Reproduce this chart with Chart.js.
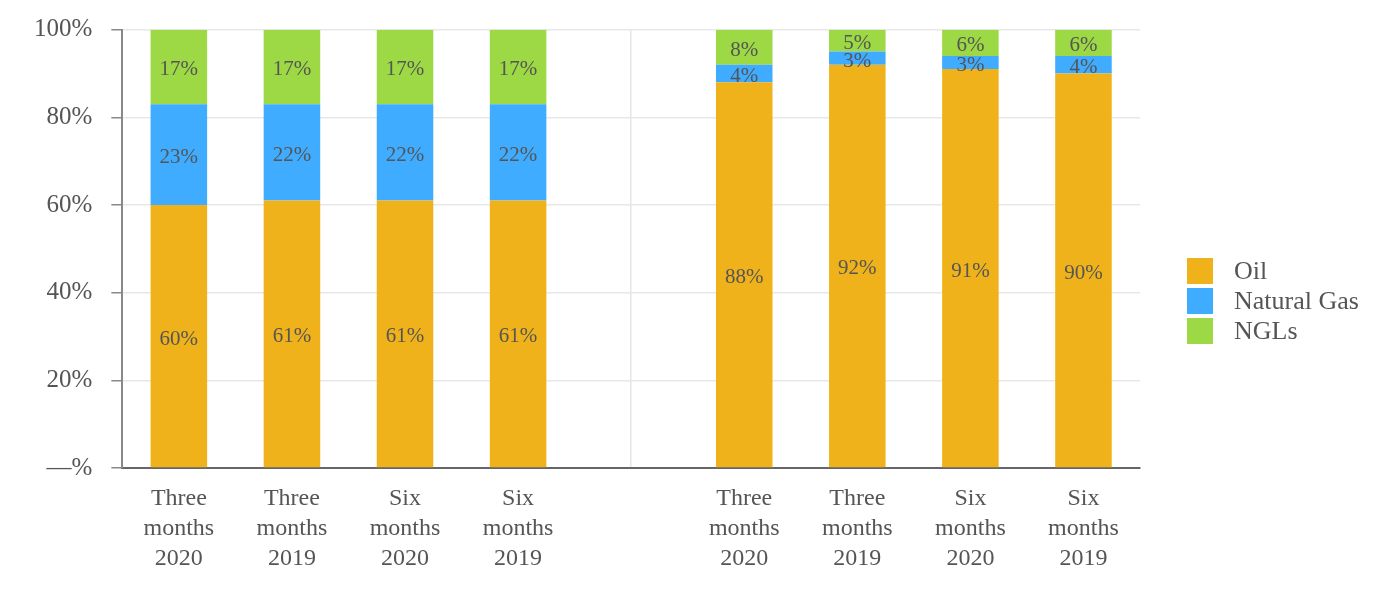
<!DOCTYPE html>
<html>
<head>
<meta charset="utf-8">
<script src="https://cdn.jsdelivr.net/npm/chart.js@4"></script>
<style>
html,body{margin:0;padding:0;background:#fff;}
#wrap{width:1400px;height:600px;position:relative;}
</style>
</head>
<body>
<div id="wrap"><canvas id="c" width="1400" height="600"></canvas></div>
<script>
const categories = [
  ['Three','months','2020'], ['Three','months','2019'], ['Six','months','2020'], ['Six','months','2019'],
  '',
  ['Three','months','2020'], ['Three','months','2019'], ['Six','months','2020'], ['Six','months','2019']
];
const seriesNames = ['Oil', 'Natural Gas', 'NGLs'];
const oil = [60, 61, 61, 61, null, 88, 92, 91, 90];
const gas = [23, 22, 22, 22, null, 4, 3, 3, 4];
const ngl = [17, 17, 17, 17, null, 8, 5, 6, 6];
const yTicks = [0, 20, 40, 60, 80, 100];

const colors = ['#F0B21A', '#3FACFF', '#9CD944'];
const FONT = '"Liberation Serif", "Times New Roman", serif';
const TEXT = '#555555';

const labelPlugin = {
  id: 'segLabels',
  afterDatasetsDraw(chart) {
    const ctx = chart.ctx;
    ctx.save();
    ctx.font = '21px ' + FONT;
    ctx.fillStyle = TEXT;
    ctx.textAlign = 'center';
    ctx.textBaseline = 'middle';
    chart.data.datasets.forEach((ds, i) => {
      const meta = chart.getDatasetMeta(i);
      meta.data.forEach((el, j) => {
        const v = ds.data[j];
        if (v === null || v === undefined) return;
        const p = el.getCenterPoint();
        ctx.fillText(v + '%', p.x, p.y + 3);
      });
    });
    ctx.restore();
  }
};

const legendPlugin = {
  id: 'sideLegend',
  afterDraw(chart) {
    const ctx = chart.ctx;
    ctx.save();
    ctx.font = '26px ' + FONT;
    ctx.textAlign = 'left';
    ctx.textBaseline = 'middle';
    chart.data.datasets.forEach((ds, i) => {
      const y = 258 + i * 30;
      ctx.fillStyle = ds.backgroundColor;
      ctx.fillRect(1187, y, 26, 26);
      ctx.fillStyle = TEXT;
      ctx.fillText(ds.label, 1234, y + 14);
    });
    ctx.restore();
  }
};

new Chart(document.getElementById('c'), {
  type: 'bar',
  data: {
    labels: categories,
    datasets: [
      { label: seriesNames[0], data: oil, backgroundColor: colors[0] },
      { label: seriesNames[1], data: gas, backgroundColor: colors[1] },
      { label: seriesNames[2], data: ngl, backgroundColor: colors[2] }
    ]
  },
  options: {
    responsive: false,
    animation: false,
    devicePixelRatio: 1,
    layout: { padding: { left: 15, right: 260, top: 4, bottom: 10 } },
    datasets: { bar: { barPercentage: 0.5, categoryPercentage: 1.0 } },
    plugins: {
      legend: { display: false },
      tooltip: { enabled: false }
    },
    scales: {
      x: {
        stacked: true,
        grid: {
          offset: false,
          drawTicks: false,
          color: (c) => (c.index === 4 ? '#e6e6e6' : 'rgba(0,0,0,0)'),
          lineWidth: 1.5
        },
        border: { color: '#666666', width: 2 },
        ticks: {
          color: TEXT,
          font: { family: FONT, size: 24, lineHeight: 1.25 },
          padding: 16,
          maxRotation: 0,
          autoSkip: false
        }
      },
      y: {
        stacked: true,
        min: 0,
        max: 100,
        afterBuildTicks(scale) { scale.ticks = yTicks.map(v => ({ value: v })); },
        grid: { color: '#e8e8e8', lineWidth: 1.5, tickColor: '#888888', tickLength: 11 },
        border: { color: '#888888', width: 2 },
        ticks: {
          color: TEXT,
          font: { family: FONT, size: 25, lineHeight: 0.85 },
          padding: 19,
          callback: (v) => (v === 0 ? '\u2014%' : v + '%')
        }
      }
    }
  },
  plugins: [labelPlugin, legendPlugin]
});
</script>
</body>
</html>
